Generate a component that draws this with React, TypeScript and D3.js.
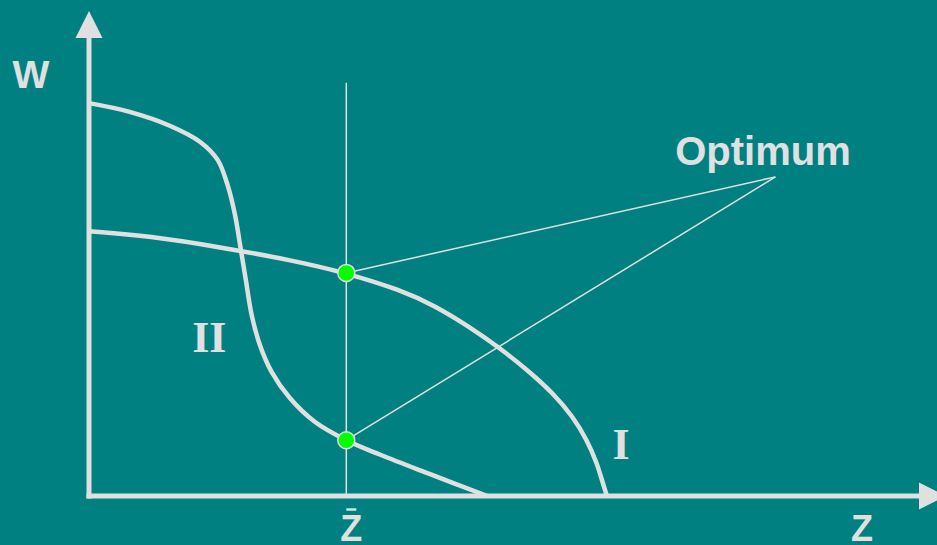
import React from "react";
import * as d3 from "d3";

const W = 937;
const H = 545;

// Curve I: gently falling, then dropping steeply to the z axis
const curveI: [number, number][] = [
  [0, 5.46], [0.73, 5.36], [1.58, 5.13], [2.42, 4.87], [3.1, 4.6],
  [3.75, 4.25], [4.17, 3.92], [4.59, 3.48], [4.95, 3.05], [5.31, 2.56],
  [5.59, 2.12], [5.83, 1.64], [6.0, 1.15], [6.12, 0.68], [6.19, 0.27],
  [6.24, 0],
];

// Curve II: high start, sharp fall, long tail
const curveII: [number, number][] = [
  [0, 8.1], [0.49, 7.92], [0.98, 7.63], [1.34, 7.3], [1.55, 6.93],
  [1.67, 6.41], [1.76, 5.79], [1.82, 5.18], [1.89, 4.45], [1.96, 3.73],
  [2.06, 3.11], [2.2, 2.56], [2.42, 2.02], [2.72, 1.53], [3.1, 1.15],
  [3.51, 0.85], [4.11, 0.45], [4.8, 0],
];

const zBar = 3.1;
const zBarTop = 8.52;
const optima: [number, number][] = [
  [3.1, 4.6],
  [3.1, 1.15],
];
const optimumAnchor: [number, number] = [8.27, 6.58];
const curveLabels = [
  { text: "II", at: [1.45, 2.96] as [number, number] },
  { text: "I", at: [6.41, 0.76] as [number, number] },
];

const BG = "#008080";
const FG = "#e0e0e0";
const SANS = "Liberation Sans, Arial, sans-serif";

export default function App() {
  const x = d3.scaleLinear().domain([0, 10]).range([89, 919]);
  const y = d3.scaleLinear().domain([0, 10]).range([496, 11]);

  const lineI = d3
    .line<[number, number]>()
    .x((d) => x(d[0]))
    .y((d) => y(d[1]))
    .curve(d3.curveBasis);

  const lineII = d3
    .line<[number, number]>()
    .x((d) => x(d[0]))
    .y((d) => y(d[1]))
    .curve(d3.curveCatmullRom.alpha(0.5));

  const x0 = x(0);
  const y0 = y(0);
  const zx = x(zBar) + 5;

  return (
    <div style={{ position: "fixed", left: 0, top: 0, width: W, height: H }}>
      <svg width={W} height={H} style={{ display: "block" }}>
        <rect x={0} y={0} width={W} height={H} fill={BG} />

        {/* vertical guide at z-bar */}
        <line x1={x(zBar)} x2={x(zBar)} y1={y(zBarTop)} y2={y0} stroke={FG} strokeWidth={1.5} />

        {/* optimum pointer lines */}
        {optima.map((p, i) => (
          <line
            key={i}
            x1={x(p[0])}
            y1={y(p[1])}
            x2={x(optimumAnchor[0])}
            y2={y(optimumAnchor[1])}
            stroke={FG}
            strokeWidth={1.5}
          />
        ))}

        {/* curves */}
        <path d={lineI(curveI) || ""} fill="none" stroke={FG} strokeWidth={4.5} />
        <path d={lineII(curveII) || ""} fill="none" stroke={FG} strokeWidth={4.5} />

        {/* axes */}
        <line x1={x0} x2={x0} y1={y0 + 2.5} y2={36} stroke={FG} strokeWidth={5} />
        <polygon points={`${x0},11 ${x0 - 13.5},38 ${x0 + 13.5},38`} fill={FG} />
        <line x1={x0 - 2.5} x2={921} y1={y0} y2={y0} stroke={FG} strokeWidth={5} />
        <polygon points={`946,${y0} 919,${y0 - 13.5} 919,${y0 + 13.5}`} fill={FG} />

        {/* optimum points */}
        {optima.map((p, i) => (
          <circle key={i} cx={x(p[0])} cy={y(p[1])} r={8.5} fill="#00ff00" stroke={FG} strokeWidth={1.5} />
        ))}

        {/* axis labels */}
        <text x={31} y={88} textAnchor="middle" fill={FG} fontFamily={SANS} fontWeight="bold" fontSize={39}>
          W
        </text>
        <text x={zx} y={541} textAnchor="middle" fill={FG} fontFamily={SANS} fontWeight="bold" fontSize={36}>
          Z
        </text>
        <line x1={zx - 5} x2={zx + 5} y1={509.5} y2={509.5} stroke={FG} strokeWidth={2.5} />
        <text x={862} y={541} textAnchor="middle" fill={FG} fontFamily={SANS} fontWeight="bold" fontSize={36}>
          Z
        </text>

        <text x={763} y={165} textAnchor="middle" fill={FG} fontFamily={SANS} fontWeight="bold" fontSize={40}>
          Optimum
        </text>

        {/* curve labels */}
        {curveLabels.map((l) => (
          <text
            key={l.text}
            x={x(l.at[0])}
            y={y(l.at[1])}
            textAnchor="middle"
            fill={FG}
            fontFamily="Liberation Serif, Times New Roman, serif"
            fontWeight="bold"
            fontSize={44}
          >
            {l.text}
          </text>
        ))}
      </svg>
    </div>
  );
}
